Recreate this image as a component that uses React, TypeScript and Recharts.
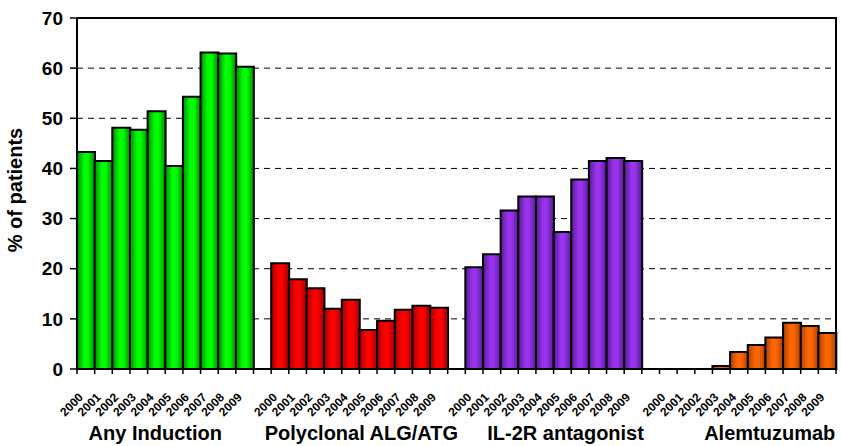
import React from 'react';
import { BarChart, Bar, XAxis, YAxis, CartesianGrid, Cell, ReferenceLine } from 'recharts';

const years = ['2000', '2001', '2002', '2003', '2004', '2005', '2006', '2007', '2008', '2009'];
const groupNames = ['Any Induction', 'Polyclonal ALG/ATG', 'IL-2R antagonist', 'Alemtuzumab'];
const anyInduction = [43.3, 41.5, 48.1, 47.7, 51.4, 40.5, 54.3, 63.1, 62.9, 60.3];
const polyclonal = [21.1, 17.9, 16.1, 12.0, 13.8, 7.8, 9.6, 11.8, 12.6, 12.2];
const il2r = [20.3, 22.9, 31.6, 34.4, 34.4, 27.3, 37.8, 41.5, 42.1, 41.5];
const alemtuzumab = [0, 0, 0, 0.6, 3.4, 4.8, 6.3, 9.2, 8.6, 7.2];
const yTicks = [0, 10, 20, 30, 40, 50, 60, 70];

const groupValues = [anyInduction, polyclonal, il2r, alemtuzumab];

type Row = { id: number; year: string; value: number | null; group: number; pos: number };
const rows: Row[] = [];
groupValues.forEach((vals, g) => {
  if (g > 0) rows.push({ id: rows.length, year: '', value: null, group: -1, pos: -1 });
  vals.forEach((v, i) => rows.push({ id: rows.length, year: years[i], value: v, group: g, pos: i }));
});

// layout / style constants
const W = 841;
const H = 446;
const MARGIN = { top: 18, right: 5, left: 17, bottom: 0 };
const Y_AXIS_W = 60;
const X_AXIS_H = 77;
const PLOT_W = W - MARGIN.left - MARGIN.right - Y_AXIS_W;
const SLOT = PLOT_W / rows.length;
const PLOT_BOTTOM = H - MARGIN.bottom - X_AXIS_H;
const PLOT_TOP = MARGIN.top;
const PLOT_LEFT = MARGIN.left + Y_AXIS_W;
const FONT = '"Liberation Sans", Arial, Helvetica, sans-serif';
const groupLabelOffsets = [-10, 2, 12, 22];
const gradients = [
  { id: 'gGreen', edge: '#008a00', mid: '#00ff00' },
  { id: 'gRed', edge: '#a00000', mid: '#ff0000' },
  { id: 'gPurple', edge: '#551a8f', mid: '#9933ee' },
  { id: 'gOrange', edge: '#a84000', mid: '#ff6600' },
];

const XTick = (props: any) => {
  const { x, payload, index } = props;
  const idx: number = typeof index === 'number' ? index : payload?.index ?? 0;
  const row = rows[idx];
  const y = PLOT_BOTTOM;
  const isLast = idx === rows.length - 1;
  const lx = x - SLOT / 2;
  const rx = x + SLOT / 2;
  return (
    <g>
      <path d={`M${lx},${y}L${lx},${y + 5}`} stroke="#000" strokeWidth={1.5} fill="none" />
      {isLast && <path d={`M${rx},${y}L${rx},${y + 5}`} stroke="#000" strokeWidth={1.5} fill="none" />}
      {row && row.year && (
        <text
          transform={`translate(${x - 2},${y + 29}) rotate(-45)`}
          textAnchor="end"
          fontSize={12}
          fontWeight="bold"
          fontFamily={FONT}
          fill="#000"
        >
          {row.year}
        </text>
      )}
      {row && row.pos === 0 && (
        <text
          x={x + 4.5 * SLOT + groupLabelOffsets[row.group]}
          y={y + 71}
          textAnchor="middle"
          fontSize={20}
          fontWeight="bold"
          fontFamily={FONT}
          fill="#000"
        >
          {groupNames[row.group]}
        </text>
      )}
    </g>
  );
};

const YLabel = () => (
  <text
    transform={`translate(22,190) rotate(-90)`}
    textAnchor="middle"
    fontSize={20}
    fontWeight="bold"
    fontFamily={FONT}
    fill="#000"
  >
    % of patients
  </text>
);

export default function App() {
  return (
    <div style={{ position: 'absolute', left: 0, top: 0, width: W, height: H, background: '#fff' }}>
      <BarChart width={W} height={H} data={rows} margin={MARGIN} barCategoryGap={0} barGap={0}>
        <defs>
          {gradients.map((g) => (
            <linearGradient key={g.id} id={g.id} x1="0" y1="0" x2="1" y2="0">
              <stop offset="0%" stopColor={g.edge} />
              <stop offset="40%" stopColor={g.mid} />
              <stop offset="60%" stopColor={g.mid} />
              <stop offset="100%" stopColor={g.edge} />
            </linearGradient>
          ))}
        </defs>
        <CartesianGrid vertical={false} stroke="#000" strokeDasharray="6 5" strokeWidth={1} />
        <XAxis
          dataKey="id"
          type="category"
          interval={0}
          height={X_AXIS_H}
          tick={<XTick />}
          tickLine={false}
          tickSize={0}
          tickMargin={0}
          axisLine={{ stroke: '#000', strokeWidth: 2 }}
        />
        <YAxis
          domain={[0, 70]}
          ticks={yTicks}
          width={Y_AXIS_W}
          tickSize={7}
          tickMargin={7}
          tick={{ fontSize: 19, fontWeight: 'bold', fill: '#000', fontFamily: FONT }}
          tickLine={{ stroke: '#000', strokeWidth: 1.5 }}
          axisLine={{ stroke: '#000', strokeWidth: 2 }}
          label={<YLabel />}
        />
        <ReferenceLine y={70} stroke="#000" strokeWidth={2} ifOverflow="visible" />
        <Bar dataKey="value" stroke="#000" strokeWidth={2} isAnimationActive={false}>
          {rows.map((r) => (
            <Cell key={r.id} fill={r.group >= 0 ? `url(#${gradients[r.group].id})` : 'none'} />
          ))}
        </Bar>
      </BarChart>
      <div
        style={{
          position: 'absolute',
          left: PLOT_LEFT - 1,
          top: PLOT_TOP - 1,
          width: PLOT_W,
          height: PLOT_BOTTOM - PLOT_TOP + 1,
          borderRight: '2px solid #000',
          pointerEvents: 'none',
        }}
      />
    </div>
  );
}
